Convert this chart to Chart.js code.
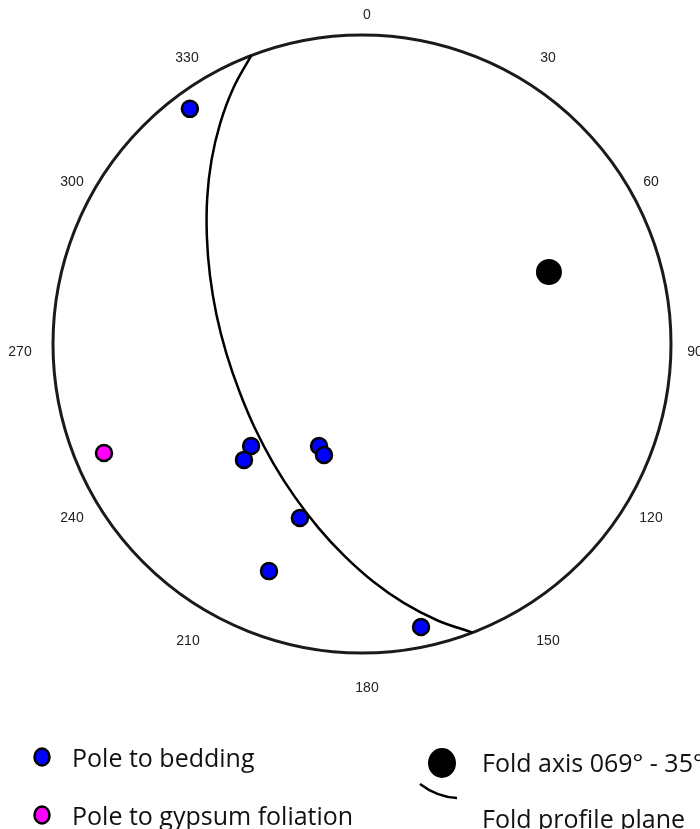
<!DOCTYPE html>
<html>
<head>
<meta charset="utf-8">
<script src="https://cdn.jsdelivr.net/npm/chart.js@4.4.1/dist/chart.umd.min.js"></script>
<style>
  html, body { margin: 0; padding: 0; background: #fff; }
  canvas { display: block; }
</style>
</head>
<body>
<canvas id="stereonet" width="700" height="829"></canvas>
<script>
// values in projection units: x = east, y = north, primitive circle radius = 1
let beddingPoles = [
  { x: -0.557, y: 0.761 },
  { x: -0.359, y: -0.330 },
  { x: -0.382, y: -0.375 },
  { x: -0.139, y: -0.330 },
  { x: -0.123, y: -0.359 },
  { x: -0.201, y: -0.563 },
  { x: -0.301, y: -0.735 },
  { x: 0.191, y: -0.916 },
];
let gypsumPoles = [{ x: -0.835, y: -0.353 }];
let foldAxis = [{ x: 0.605, y: 0.233 }]; // 069 - 35

// fold profile plane, traced along the curve from 339 to 159
let profilePlane = [
  { x: -0.358, y: 0.934 },
  { x: -0.417, y: 0.827 },
  { x: -0.459, y: 0.714 },
  { x: -0.487, y: 0.595 },
  { x: -0.501, y: 0.472 },
  { x: -0.502, y: 0.347 },
  { x: -0.492, y: 0.221 },
  { x: -0.471, y: 0.095 },
  { x: -0.439, y: -0.030 },
  { x: -0.397, y: -0.153 },
  { x: -0.347, y: -0.272 },
  { x: -0.287, y: -0.386 },
  { x: -0.218, y: -0.494 },
  { x: -0.141, y: -0.595 },
  { x: -0.057, y: -0.686 },
  { x: 0.035, y: -0.768 },
  { x: 0.135, y: -0.838 },
  { x: 0.243, y: -0.894 },
  { x: 0.358, y: -0.934 },
];

let azimuthLabels = [0, 30, 60, 90, 120, 150, 180, 210, 240, 270, 300, 330];

// where each azimuth label sits on the page (hand placed in the original)
const labelSpots = {
  0: [367, 15], 30: [548, 58], 60: [651, 182], 90: [695, 352],
  120: [651, 518], 150: [548, 641], 180: [367, 688], 210: [188, 641],
  240: [72, 518], 270: [20, 352], 300: [72, 182], 330: [187, 58],
};

// primitive circle + azimuth labels + white background
const netPlugin = {
  id: "net",
  beforeDraw(chart) {
    const ctx = chart.ctx;
    ctx.save();
    ctx.fillStyle = "#ffffff";
    ctx.fillRect(0, 0, chart.width, chart.height);
    ctx.restore();
  },
  beforeDatasetsDraw(chart) {
    const ctx = chart.ctx;
    const xs = chart.scales.x;
    const ys = chart.scales.y;
    const cx = xs.getPixelForValue(0);
    const cy = ys.getPixelForValue(0);
    const r = xs.getPixelForValue(1) - cx;

    ctx.save();
    ctx.beginPath();
    ctx.arc(cx, cy, r, 0, Math.PI * 2);
    ctx.lineWidth = 3;
    ctx.strokeStyle = "#1a1a1a";
    ctx.stroke();

    ctx.fillStyle = "#222";
    ctx.font = "14px 'Liberation Sans', Arial, sans-serif";
    ctx.textAlign = "center";
    ctx.textBaseline = "middle";
    for (const az of azimuthLabels) {
      const spot = labelSpots[az];
      ctx.fillText(String(az), spot[0], spot[1]);
    }
    ctx.restore();
  },
  afterDraw(chart) {
    // legend below the net
    const ctx = chart.ctx;
    ctx.save();
    const dot = (x, y, rad, fill) => {
      ctx.beginPath();
      ctx.ellipse(x, y, rad, rad + 1, 0, 0, Math.PI * 2);
      ctx.fillStyle = fill;
      ctx.fill();
      ctx.lineWidth = 2.5;
      ctx.strokeStyle = "#000";
      ctx.stroke();
    };
    dot(42, 757, 7.5, "#0000ff");
    dot(42, 815, 7.5, "#ff00ff");
    ctx.beginPath();
    ctx.ellipse(442, 763, 14, 15, 0, 0, Math.PI * 2);
    ctx.fillStyle = "#000";
    ctx.fill();

    ctx.beginPath();
    ctx.moveTo(420, 784);
    ctx.quadraticCurveTo(437, 797, 457, 798);
    ctx.lineWidth = 2.5;
    ctx.strokeStyle = "#000";
    ctx.stroke();

    ctx.fillStyle = "#111";
    ctx.font = "25px 'Open Sans', sans-serif";
    ctx.textAlign = "left";
    ctx.textBaseline = "middle";
    ctx.fillText("Pole to bedding", 72, 760);
    ctx.fillText("Pole to gypsum foliation", 72, 818);
    ctx.fillText("Fold axis 069\u00b0 - 35\u00b0", 482, 765);
    ctx.fillText("Fold profile plane", 482, 821);
    ctx.restore();
  },
};

let ctx = document.getElementById("stereonet").getContext("2d");
let netChart = new Chart(ctx, {
  type: "scatter",
  data: {
    datasets: [
      {
        label: "Pole to bedding",
        data: beddingPoles,
        pointRadius: 8,
        pointBackgroundColor: "#0000ff",
        pointBorderColor: "#000",
        pointBorderWidth: 2.5,
      },
      {
        label: "Pole to gypsum foliation",
        data: gypsumPoles,
        pointRadius: 8,
        pointBackgroundColor: "#ff00ff",
        pointBorderColor: "#000",
        pointBorderWidth: 2.5,
      },
      {
        label: "Fold axis 069° - 35°",
        data: foldAxis,
        pointRadius: 13,
        pointBackgroundColor: "#000",
        pointBorderColor: "#000",
        pointBorderWidth: 0,
      },
      {
        label: "Fold profile plane",
        data: profilePlane,
        showLine: true,
        tension: 0.4,
        pointRadius: 0,
        borderColor: "#000",
        borderWidth: 2.5,
        fill: false,
      },
    ],
  },
  options: {
    responsive: false,
    animation: false,
    clip: false,
    layout: {
      padding: { left: 53, right: 29, top: 35, bottom: 176 },
    },
    scales: {
      x: { type: "linear", min: -1, max: 1, display: false },
      y: { type: "linear", min: -1, max: 1, display: false },
    },
    plugins: {
      legend: { display: false },
      tooltip: { enabled: false },
    },
  },
  plugins: [netPlugin],
});
</script>
</body>
</html>
